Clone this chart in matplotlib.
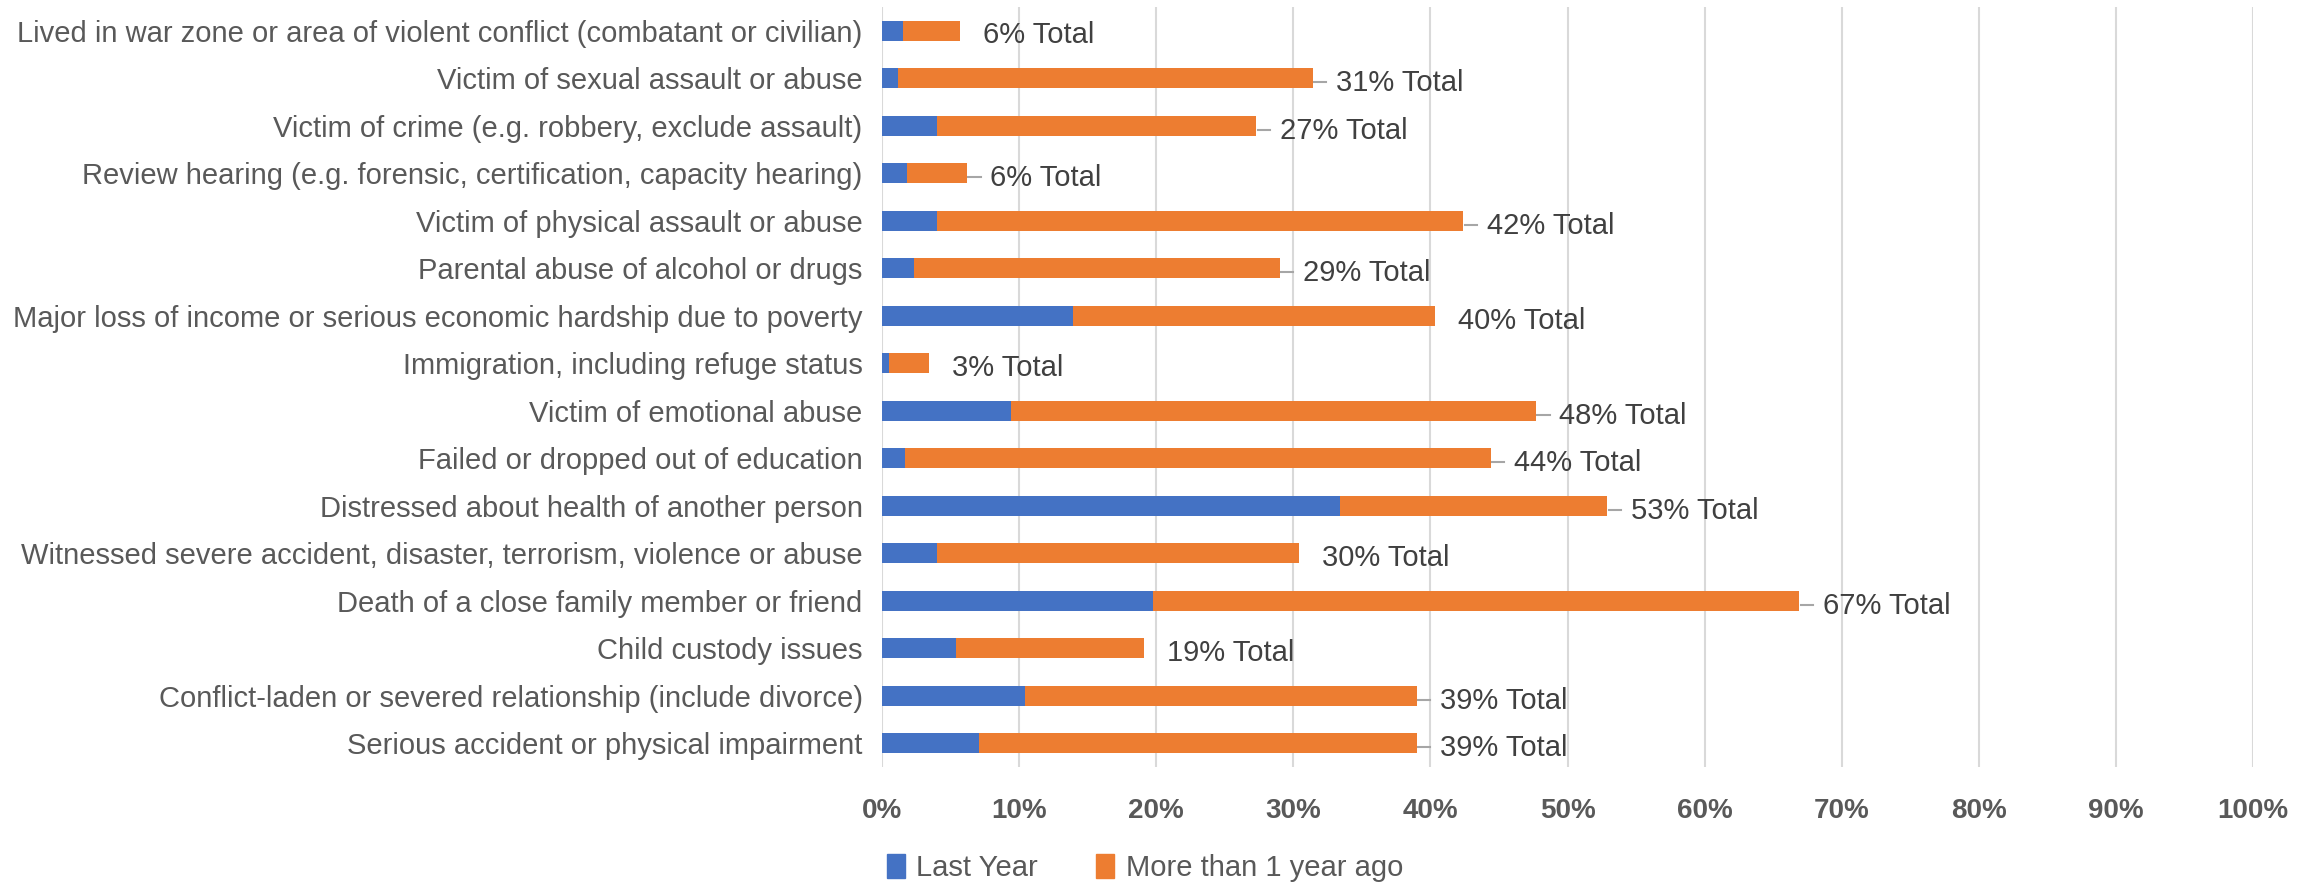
import numpy as np
import matplotlib.pyplot as plt
from matplotlib.patches import Patch

plt.rcParams['font.family'] = ['Liberation Sans Narrow', 'Liberation Sans', 'DejaVu Sans']

categories = [
    'Lived in war zone or area of violent conflict (combatant or civilian)',
    'Victim of sexual assault or abuse',
    'Victim of crime (e.g. robbery, exclude assault)',
    'Review hearing (e.g. forensic, certification, capacity hearing)',
    'Victim of physical assault or abuse',
    'Parental abuse of alcohol or drugs',
    'Major loss of income or serious economic hardship due to poverty',
    'Immigration, including refuge status',
    'Victim of emotional abuse',
    'Failed or dropped out of education',
    'Distressed about health of another person',
    'Witnessed severe accident, disaster, terrorism, violence or abuse',
    'Death of a close family member or friend',
    'Child custody issues',
    'Conflict-laden or severed relationship (include divorce)',
    'Serious accident or physical impairment',
]
last_year = [1.5, 1.2, 4.0, 1.8, 4.0, 2.3, 13.9, 0.5, 9.4, 1.7, 33.4, 4.0, 19.8, 5.4, 10.4, 7.1]
earlier = [4.2, 30.2, 23.3, 4.4, 38.4, 26.7, 26.4, 2.9, 38.3, 42.7, 19.5, 26.4, 47.1, 13.7, 28.6, 31.9]
# rows whose total label is joined to its bar by a short leader line
leader_rows = [1, 2, 3, 4, 5, 8, 9, 10, 12, 14, 15]
xticks = np.arange(0, 101, 10)

BLUE = '#4472C4'
ORANGE = '#ED7D31'
TEXT = '#595959'

fig = plt.figure(figsize=(23.18, 8.86), dpi=100)
ax = fig.add_axes([0.3805, 0.1343, 0.5915, 0.8578])

y = np.arange(len(categories))
last_year = np.array(last_year)
earlier = np.array(earlier)
totals = last_year + earlier

ax.barh(y, last_year, height=0.43, color=BLUE, label='Last Year', zorder=3)
ax.barh(y, earlier, left=last_year, height=0.43, color=ORANGE,
        label='More than 1 year ago', zorder=3)

for i, t in enumerate(totals):
    if i in leader_rows:
        ax.plot([t + 0.1, t + 1.0], [i + 0.08, i + 0.08], color='#A6A6A6', lw=1.5, zorder=2)
    ax.text(t + 1.7, i + 0.1, '{:.0f}% Total'.format(round(t)), va='center', ha='left',
            fontsize=21, color='#404040')

ax.set_xlim(0, 100)
ax.set_ylim(len(categories) - 0.5, -0.5)
ax.set_yticks(y)
ax.set_yticklabels(categories, fontsize=21, color=TEXT)
ax.set_xticks(xticks)
ax.set_xticklabels(['{}%'.format(v) for v in xticks], fontsize=20, fontweight='bold', color=TEXT)
ax.tick_params(axis='y', length=0, pad=14)
ax.tick_params(axis='x', length=0, pad=22)
ax.grid(axis='x', color='#D9D9D9', lw=1.5, zorder=0)
for s in ax.spines.values():
    s.set_visible(False)

handles = [Patch(color=BLUE), Patch(color=ORANGE)]
fig.legend(handles, ['Last Year', 'More than 1 year ago'], loc='center', bbox_to_anchor=(0.494, 0.02),
           ncol=2, frameon=False, fontsize=21, handlelength=0.6, handleheight=0.9,
           handletextpad=0.4, columnspacing=2.0, labelcolor=TEXT)

plt.savefig('out.png', dpi=100)
